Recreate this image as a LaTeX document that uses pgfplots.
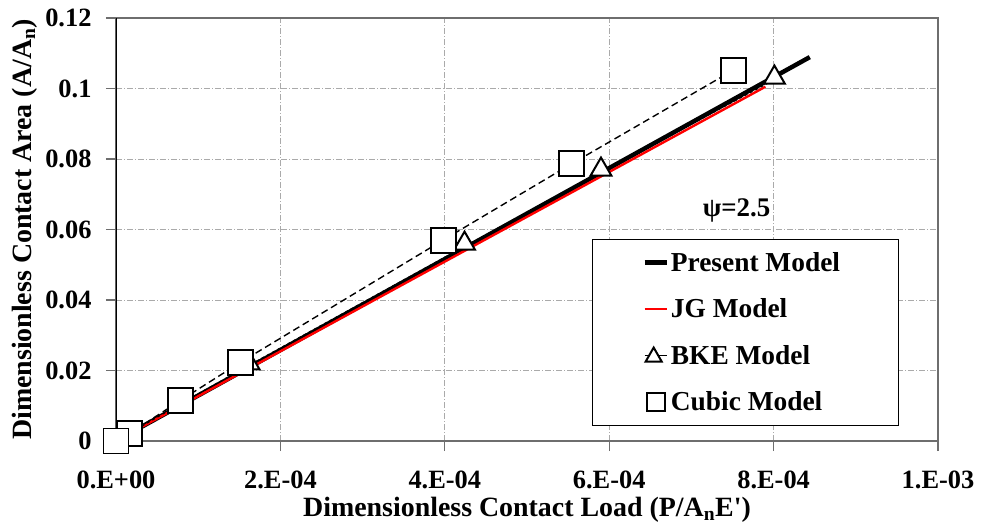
\documentclass[border=0pt]{standalone}
\usepackage{pgfplots}
\pgfplotsset{compat=1.18}
\usepackage{fontspec}
\setmainfont{Liberation Serif}
\newfontfamily\plainserif{Liberation Serif}
\definecolor{gridgray}{RGB}{170,170,170}
\definecolor{framegray}{RGB}{110,110,110}
\pgfplotsset{
  presentleg/.style={legend image code/.code={\draw[black,line width=4.5pt] (0bp,0bp)--(22bp,0bp);}},
  jgleg/.style={legend image code/.code={\draw[red,line width=2.4pt] (0bp,0bp)--(22bp,0bp);}},
  bkeleg/.style={legend image code/.code={\draw[black,line width=1.2pt] (0bp,0bp)--(22bp,0bp); \draw[black, line width=2pt, fill=white] (1bp,-6bp) -- (17bp,-6bp) -- (9bp,8bp) -- cycle;}},
  cubicleg/.style={legend image code/.code={\draw[black,line width=2pt, fill=white] (2bp,-9bp) rectangle (20bp,9bp);}},
}
\begin{document}
\begin{tikzpicture}[x=1bp,y=1bp]
\begin{axis}[
  scale only axis,
  width=822bp, height=423bp,
  xmin=0, xmax=1e-3, ymin=0, ymax=0.12,
  xtick={0,2e-4,4e-4,6e-4,8e-4,1e-3},
  xticklabels={0.E+00,2.E-04,4.E-04,6.E-04,8.E-04,1.E-03},
  ytick={0,0.02,0.04,0.06,0.08,0.1,0.12},
  yticklabels={0,0.02,0.04,0.06,0.08,0.1,0.12},
  scaled x ticks=false, scaled y ticks=false,
  /pgf/number format/assume math mode=true,
  tick label style={font=\bfseries\fontsize{26.5}{30}\selectfont},
  xticklabel style={yshift=-16bp},
  yticklabel style={xshift=-11bp},
  label style={font=\bfseries\fontsize{28}{32}\selectfont},
  tick pos=left, tick align=outside,
  major tick length=10bp,
  tick style={framegray, line width=1.2pt},
  axis line style={framegray, line width=1.2pt},
  grid=major,
  major grid style={gridgray, line width=0.9pt, dash pattern=on 6bp off 2bp on 1bp off 2bp},
  xlabel={Dimensionless Contact Load (P/A\textsubscript{n}E{\plainserif\bfseries '})},
  ylabel={Dimensionless Contact Area (A/A\textsubscript{n})},
  xlabel style={yshift=-2bp},
  ylabel style={yshift=1bp},
  legend style={at={(0.579,0.478)}, anchor=north west, draw=black, line width=1pt,
    font=\bfseries\fontsize{27.5}{30}\selectfont, inner xsep=50bp, inner ysep=11bp,
    row sep=22bp, cells={anchor=west}},
  legend cell align=left,
]
\addplot[black, line width=4.5pt, forget plot] coordinates {(0,0) (8.44e-4,0.1089)};
\addplot[red, line width=2.4pt, forget plot] coordinates {(0,0) (7.9e-4,0.1005)};
\addplot[black, line width=1.2pt, dashed, forget plot] coordinates {
 (0,0) (7.8e-5,0.0105) (1.62e-4,0.0215) (4.24e-4,0.0552) (5.9e-4,0.0762) (8.01e-4,0.1025)};
\addplot[black, line width=1.4pt, dash pattern=on 7bp off 4bp, forget plot] coordinates {
 (0,0) (1.7e-5,0.0022) (7.9e-5,0.0116) (1.52e-4,0.0224) (3.98e-4,0.057) (5.54e-4,0.0786) (7.51e-4,0.1052)};
\addplot[only marks, mark=triangle*, mark size=12bp, mark options={fill=white, draw=black, line width=2pt}, forget plot] coordinates {
 (7.8e-5,0.0110) (1.62e-4,0.0220) (4.24e-4,0.0560) (5.9e-4,0.0770) (8.01e-4,0.1031)};
\addplot[only marks, mark=square*, mark size=12.5bp, mark options={fill=white, draw=black, line width=2pt}, forget plot] coordinates {
 (1.7e-5,0.0022) (7.9e-5,0.0116) (1.52e-4,0.0224) (3.98e-4,0.057) (5.54e-4,0.0786) (7.51e-4,0.1052)};
\addplot[only marks, mark=square*, mark size=12.5bp, mark options={fill=white, draw=black, line width=2pt}, forget plot] coordinates {(0,0)};
\addlegendimage{presentleg}
\addlegendentry{Present Model\hspace*{6bp}}
\addlegendimage{jgleg}
\addlegendentry{JG Model}
\addlegendimage{bkeleg}
\addlegendentry{BKE Model}
\addlegendimage{cubicleg}
\addlegendentry{Cubic Model}
\node[font=\bfseries\fontsize{27}{30}\selectfont] at (axis cs:7.55e-4,0.0655) {ψ=2.5};
\draw[black, line width=1.2pt] (rel axis cs:0,0) -- (rel axis cs:0,1);
\end{axis}
\pgfresetboundingbox
\path[use as bounding box] (current axis.south west) ++(-116bp,-87bp) rectangle ([shift={(52bp,18bp)}]current axis.north east);
\end{tikzpicture}
\end{document}
